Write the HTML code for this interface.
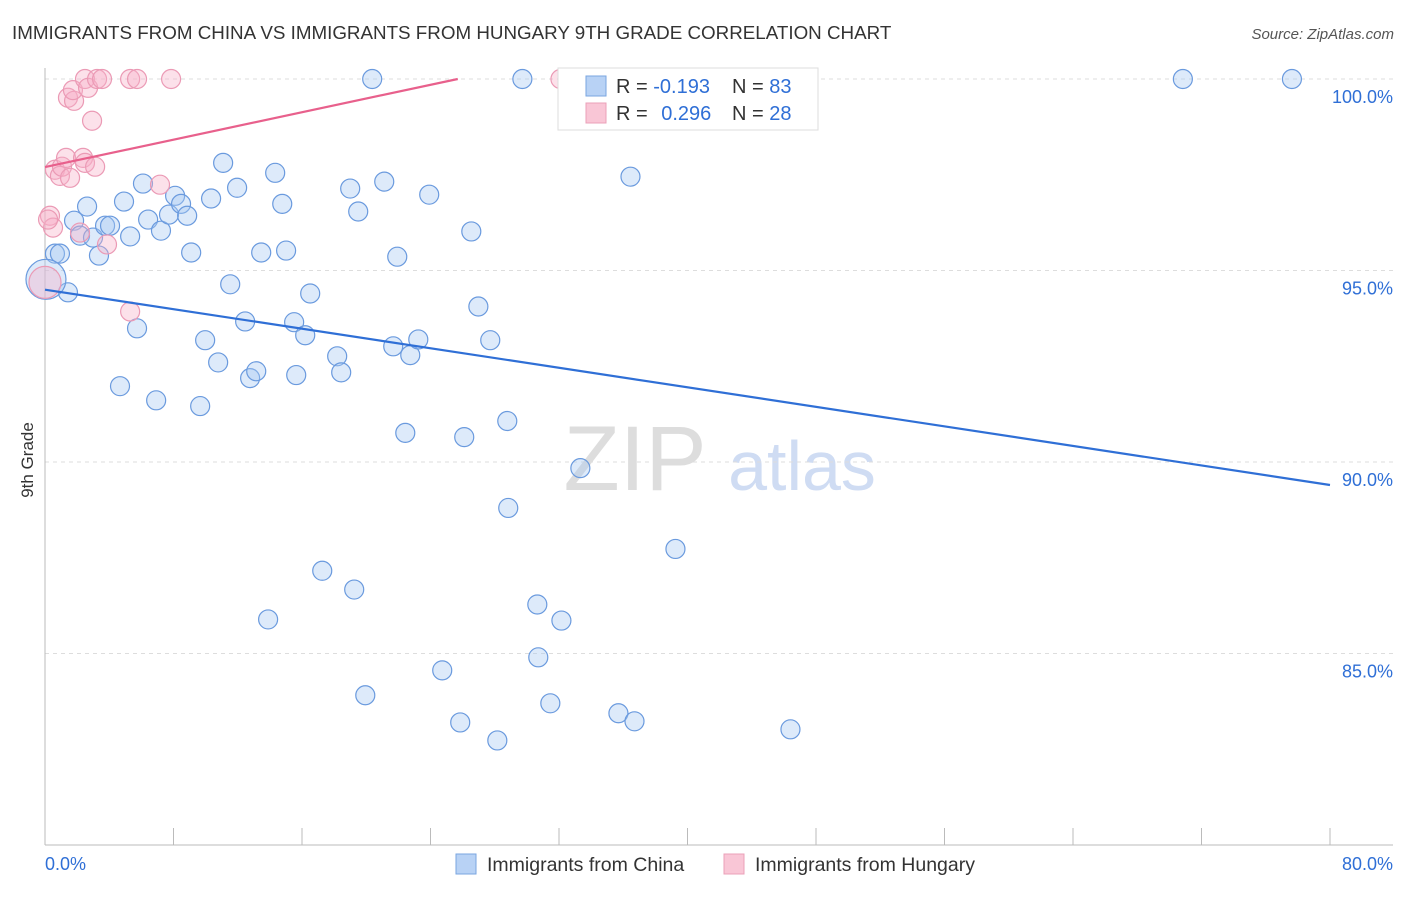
<!DOCTYPE html>
<html><head><meta charset="utf-8"><style>
body{margin:0;background:#fff;font-family:"Liberation Sans",sans-serif}
svg text{font-family:"Liberation Sans",sans-serif}
</style></head><body>
<svg id="chart" width="1406" height="892" viewBox="0 0 1406 892">
<text x="12" y="39" font-size="18.8" fill="#333">IMMIGRANTS FROM CHINA VS IMMIGRANTS FROM HUNGARY 9TH GRADE CORRELATION CHART</text>
<text x="1394" y="39" font-size="15" fill="#555" text-anchor="end" font-style="italic">Source: ZipAtlas.com</text>
<text x="33" y="460" font-size="17" fill="#333" text-anchor="middle" transform="rotate(-90 33 460)">9th Grade</text>
<g><text x="635" y="490" font-size="92" fill="#ddd" text-anchor="middle" font-family="Liberation Serif">ZIP</text><text x="802" y="490" font-size="70" fill="#cfdcf3" text-anchor="middle">atlas</text></g>
<g id="grid"></g><g id="axes"></g><g id="marks"></g>
<g>
<rect x="558" y="68" width="260" height="62" fill="#fff" stroke="#ddd"/>
<rect x="586" y="76" width="20" height="20" fill="#b8d2f5" stroke="#7aa6e0"/>
<rect x="586" y="103" width="20" height="20" fill="#f9c6d6" stroke="#eba0b8"/>
<text x="616" y="93" font-size="20" fill="#333">R = <tspan fill="#2f6fd6">-0.193</tspan></text>
<text x="732" y="93" font-size="20" fill="#333">N = <tspan fill="#2f6fd6">83</tspan></text>
<text x="616" y="120" font-size="20" fill="#333">R = <tspan fill="#2f6fd6" dx="8">0.296</tspan></text>
<text x="732" y="120" font-size="20" fill="#333">N = <tspan fill="#2f6fd6">28</tspan></text>
</g>
<g>
<rect x="456" y="854" width="20" height="20" fill="#b8d2f5" stroke="#7aa6e0"/>
<text x="487" y="871" font-size="19.5" fill="#333">Immigrants from China</text>
<rect x="724" y="854" width="20" height="20" fill="#f9c6d6" stroke="#eba0b8"/>
<text x="755" y="871" font-size="19.5" fill="#333">Immigrants from Hungary</text>
</g>
</svg>
<script>
const yTicks=[100,95,90,85];
const yTickLabels=["100.0%","95.0%","90.0%","85.0%"];
const xTicks=[0,8,16,24,32,40,48,56,64,72,80];
const chinaX=[0.62,0.93,1.43,2.62,1.81,2.18,2.99,3.36,3.74,4.05,4.92,5.30,6.10,6.42,5.73,7.22,7.72,8.10,8.47,8.85,9.10,9.97,10.34,10.78,11.09,11.53,11.96,12.46,12.77,13.15,13.46,13.89,14.33,14.77,15.01,15.51,15.64,16.20,16.51,17.26,18.19,18.44,19.00,19.25,19.50,19.94,20.37,21.12,21.68,21.93,22.43,22.74,23.24,23.92,24.73,25.85,26.10,26.54,26.98,27.72,28.16,28.78,28.84,29.72,30.65,30.71,31.46,32.15,32.96,33.33,34.51,35.70,36.45,36.70,39.25,40.93,46.41,70.84,77.63,6.92,9.66,4.67];
const chinaY=[95.44,95.44,94.43,96.67,96.30,95.91,95.86,95.39,96.17,96.17,96.80,95.89,97.27,96.33,93.49,96.04,96.46,96.95,96.74,96.43,95.47,93.18,96.88,92.60,97.81,94.64,97.16,93.67,92.19,92.37,95.47,85.89,97.55,96.74,95.52,93.65,92.27,93.31,94.40,87.16,92.76,92.34,97.14,86.67,96.54,83.91,100,97.32,93.02,95.36,90.76,92.79,93.20,96.98,84.56,83.20,90.65,96.02,94.06,93.18,82.73,91.07,88.80,100,86.28,84.90,83.70,85.86,100,89.84,99.77,83.44,97.45,83.23,87.73,100,83.02,100,100,91.61,91.46,91.98];
const hungaryX=[0.31,0.50,0.62,0.93,1.06,1.31,1.56,1.43,1.81,1.74,2.49,2.68,2.93,2.18,2.37,2.49,3.12,3.24,3.55,3.86,5.30,5.30,5.73,7.16,7.85,32.09,0.19];
const hungaryY=[96.43,96.12,97.63,97.47,97.71,97.94,97.42,99.51,99.43,99.71,100,99.77,98.91,95.99,97.94,97.81,97.71,100,100,95.68,93.93,100,100,97.24,100,100,96.33];
const bigX=[0.06,0];const bigY=[94.77,94.69];
const chinaTrend=[94.5,89.4];
const hungaryTrend=[97.7,104.86];
const X=v=>45+v/80*1285, Y=v=>79+(100-v)*38.3;
const NS="http://www.w3.org/2000/svg";
function mk(t,a,p){const e=document.createElementNS(NS,t);for(const k in a)e.setAttribute(k,a[k]);p.appendChild(e);return e;}
const grid=document.getElementById('grid'),axes=document.getElementById('axes'),marks=document.getElementById('marks');
yTicks.forEach((v,i)=>{
 const l=mk('line',{x1:45,x2:1393,y1:Y(v),y2:Y(v),stroke:'#ddd','stroke-dasharray':'4 4'},grid);
 
 
 const t=mk('text',{x:1393,y:Y(v)+24,'font-size':18,fill:'#2f6fd6','text-anchor':'end'},axes);t.textContent=yTickLabels[i];
 
 
});
const ax=mk('line',{x1:45,x2:45,y1:68,y2:845,stroke:'#bbb'},axes);


const bx=mk('line',{x1:45,x2:1393,y1:845,y2:845,stroke:'#bbb'},axes);


xTicks.forEach(v=>{const t=mk('line',{x1:X(v),x2:X(v),y1:828,y2:845,stroke:'#bbb'},axes);
 
 });
const xl=mk('text',{x:45,y:870,'font-size':18,fill:'#2f6fd6'},axes);xl.textContent='0.0%';


const xr=mk('text',{x:1393,y:870,'font-size':18,fill:'#2f6fd6','text-anchor':'end'},axes);xr.textContent='80.0%';


function dot(x,y,r,c){const e=mk('circle',{cx:X(x),cy:Y(y),r:r,fill:c[0],stroke:c[1],'stroke-width':1.2},marks);return e;}
const blue=['rgba(165,199,243,0.38)','#6a9ade'],pink=['rgba(246,175,199,0.38)','#eb9ab5'];
chinaX.forEach((x,i)=>{const e=dot(x,chinaY[i],9.5,blue);
 
 });
hungaryX.forEach((x,i)=>{const e=dot(x,hungaryY[i],9.5,pink);
 
 });
{const e=dot(bigX[0],bigY[0],20,blue);
 
 }
{const e=dot(bigX[1],bigY[1],16,pink);
 
 }
const bl=mk('line',{x1:X(0),y1:Y(chinaTrend[0]),x2:X(80),y2:Y(chinaTrend[1]),stroke:'#2f6fd6','stroke-width':2.2},marks);


const slope=(hungaryTrend[1]-hungaryTrend[0])/80, xe=(100-hungaryTrend[0])/slope;
const pl=mk('line',{x1:X(0),y1:Y(hungaryTrend[0]),x2:X(xe),y2:Y(100),stroke:'#e8608c','stroke-width':2.2},marks);


</script>
</body></html>
